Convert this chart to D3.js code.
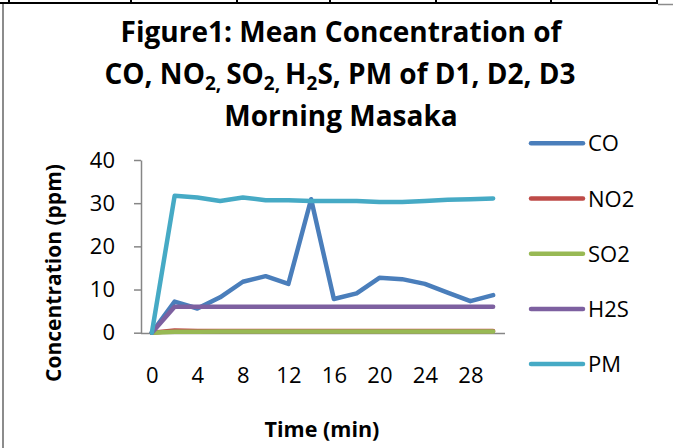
<!DOCTYPE html>
<html>
<head>
<meta charset="utf-8">
<script src="https://cdn.jsdelivr.net/npm/d3@7"></script>
<style>
  body { margin: 0; background: #fff; }
  svg { display: block; font-family: "Open Sans", Lato, sans-serif; font-variant-ligatures: none; }
</style>
</head>
<body>
<div class="container"></div>
<script>
// data
var times = [0, 2, 4, 6, 8, 10, 12, 14, 16, 18, 20, 22, 24, 26, 28, 30];
var timeLabels = [0, 4, 8, 12, 16, 20, 24, 28];
var yTicks = [0, 10, 20, 30, 40];
var seriesNames = ['CO', 'NO2', 'SO2', 'H2S', 'PM'];
var coValues  = [0, 7.2, 5.6, 8.2, 11.8, 13.1, 11.3, 30.9, 7.8, 9.1, 12.7, 12.4, 11.3, 9.3, 7.3, 8.7];
var no2Values = [0, 0.5, 0.4, 0.4, 0.4, 0.4, 0.4, 0.4, 0.4, 0.4, 0.4, 0.4, 0.4, 0.4, 0.4, 0.4];
var so2Values = [0, 0.2, 0.2, 0.3, 0.3, 0.3, 0.3, 0.3, 0.3, 0.3, 0.3, 0.3, 0.3, 0.3, 0.3, 0.3];
var h2sValues = [0, 6, 6, 6, 6, 6, 6, 6, 6, 6, 6, 6, 6, 6, 6, 6];
var pmValues  = [0, 31.7, 31.3, 30.5, 31.3, 30.7, 30.7, 30.5, 30.5, 30.5, 30.3, 30.3, 30.5, 30.8, 30.9, 31.1];
var colors = ['#4a7ebb', '#be4b48', '#98b954', '#7d60a0', '#46aac5'];

var width = 673, height = 448;
var svg = d3.select('.container').append('svg')
    .attr('width', width).attr('height', height);

// chart frame + bit of the word table above it
svg.append('line').attr('x1', 3).attr('x2', 3).attr('y1', 4).attr('y2', height)
    .attr('stroke', '#8c8c8c').attr('stroke-width', 2);
svg.append('line').attr('x1', 658).attr('x2', width).attr('y1', 4.5).attr('y2', 4.5)
    .attr('stroke', '#8c8c8c').attr('stroke-width', 1.5);
svg.append('line').attr('x1', 0).attr('x2', 658).attr('y1', 3).attr('y2', 3)
    .attr('stroke', '#000').attr('stroke-width', 2);
[9, 131, 237, 330, 436, 551, 657].forEach(function (x) {
    svg.append('line').attr('x1', x).attr('x2', x).attr('y1', 0).attr('y2', 4)
        .attr('stroke', '#000').attr('stroke-width', 2);
});

// title
var title = svg.append('text').attr('text-anchor', 'middle')
    .attr('font-weight', 'bold').attr('font-size', 28).attr('fill', '#000');
title.append('tspan').attr('x', 341).attr('y', 42).text('Figure1: Mean Concentration of');
var l2 = title.append('tspan').attr('x', 340).attr('y', 84);
l2.append('tspan').text('CO, NO');
l2.append('tspan').attr('font-size', 19).attr('dy', 6).text('2, ');
l2.append('tspan').attr('dy', -6).text('SO');
l2.append('tspan').attr('font-size', 19).attr('dy', 6).text('2, ');
l2.append('tspan').attr('dy', -6).text('H');
l2.append('tspan').attr('font-size', 19).attr('dy', 6).text('2');
l2.append('tspan').attr('dy', -6).text('S, PM of D1, D2, D3');
title.append('tspan').attr('x', 341).attr('y', 126).text('Morning Masaka');

// scales
var x = d3.scalePoint().domain(times).range([140.5, 504.5]).padding(0.5);
var y = d3.scaleLinear().domain([0, 40]).range([332.7, 160]);

var yAxis = svg.append('g').attr('transform', 'translate(141,0)')
    .call(d3.axisLeft(y).tickValues(yTicks).tickSize(7).tickSizeOuter(0).tickPadding(19));
yAxis.selectAll('text').attr('font-size', 22).attr('fill', '#000').attr('font-family', 'Open Sans');
yAxis.selectAll('line, path').attr('stroke', '#868686').attr('stroke-width', 1.5);

var xAxis = svg.append('g').attr('transform', 'translate(0,333)')
    .call(d3.axisBottom(x).tickValues(timeLabels).tickSize(0).tickSizeOuter(0));
xAxis.selectAll('text').attr('font-size', 22).attr('fill', '#000')
    .attr('font-family', 'Open Sans').attr('y', 50).attr('dy', 0);
xAxis.select('path').attr('stroke', '#868686').attr('stroke-width', 1.5);

// axis titles
svg.append('text').attr('transform', 'translate(61,273) rotate(-90)')
    .attr('text-anchor', 'middle').attr('font-weight', 'bold').attr('font-size', 21)
    .text('Concentration (ppm)');
svg.append('text').attr('x', 322).attr('y', 437)
    .attr('text-anchor', 'middle').attr('font-weight', 'bold').attr('font-size', 21.5)
    .text('Time (min)');

// lines
var allValues = [coValues, no2Values, so2Values, h2sValues, pmValues];
var line = d3.line()
    .x(function (d, i) { return x(times[i]); })
    .y(function (d) { return y(d); });

svg.selectAll('path.series')
    .data(allValues)
    .enter()
    .append('path')
    .attr('class', 'series')
    .attr('d', line)
    .attr('fill', 'none')
    .attr('stroke', function (d, i) { return colors[i]; })
    .attr('stroke-width', 4.5)
    .attr('stroke-linejoin', 'round')
    .attr('stroke-linecap', 'round');

// legend
var legend = svg.selectAll('g.legend')
    .data(seriesNames)
    .enter()
    .append('g')
    .attr('class', 'legend')
    .attr('transform', function (d, i) { return 'translate(0,' + (143.3 + i * 55.2) + ')'; });
legend.append('line').attr('x1', 531).attr('x2', 583).attr('y1', 0).attr('y2', 0)
    .attr('stroke', function (d, i) { return colors[i]; })
    .attr('stroke-width', 4.5).attr('stroke-linecap', 'round');
legend.append('text').attr('x', 588).attr('y', 8).attr('font-size', 22)
    .text(function (d) { return d; });
</script>
</body>
</html>
